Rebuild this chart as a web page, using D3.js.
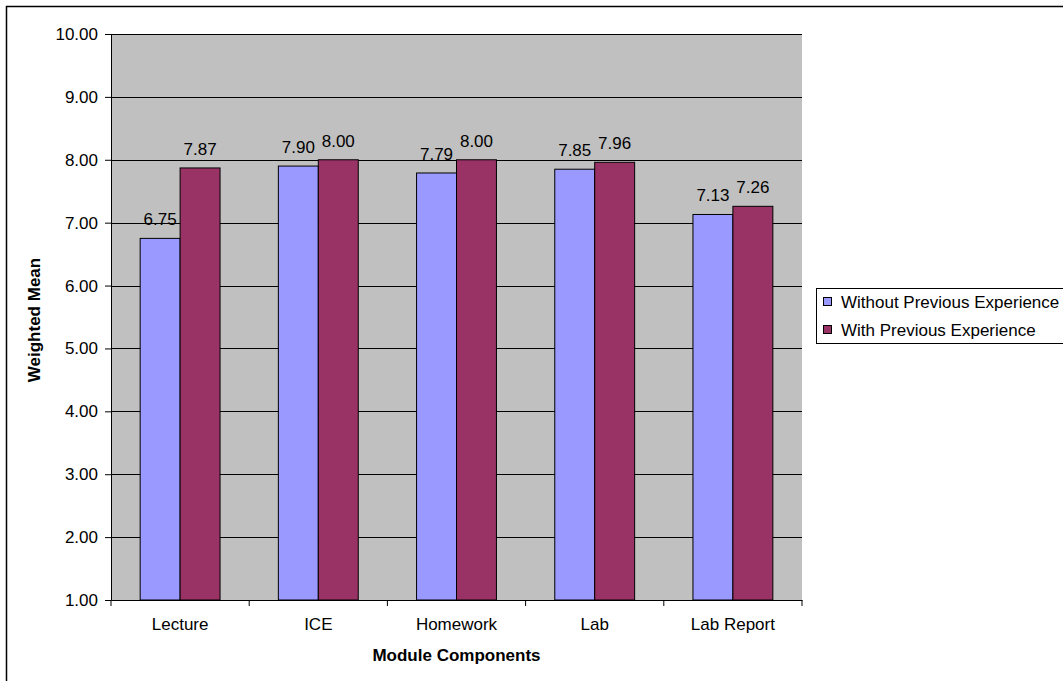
<!DOCTYPE html>
<html><head><meta charset="utf-8">
<script src="https://cdn.jsdelivr.net/npm/d3@7/dist/d3.min.js"></script>
<style>body{margin:0;background:#fff;}svg{display:block;font-family:"Liberation Sans",Arial,sans-serif;}</style>
</head><body>
<svg id="c" width="1063" height="681"></svg>
<script>
const categories = ["Lecture", "ICE", "Homework", "Lab", "Lab Report"];
const seriesNames = ["Without Previous Experience", "With Previous Experience"];
const without = [6.75, 7.90, 7.79, 7.85, 7.13];
const withExp = [7.87, 8.00, 8.00, 7.96, 7.26];
const yTicks = [1, 2, 3, 4, 5, 6, 7, 8, 9, 10];
const colors = ["#9999FF", "#993366"];

const svg = d3.select("#c");
const L = 111, R = 802, T = 34, B = 600;
const FS = 17;

// outer border (left + top)
svg.append("path").attr("d", "M6.5,681 L6.5,6.5 L1063,6.5").attr("fill", "none").attr("stroke", "#000").attr("stroke-width", 1.5);

const x = d3.scaleBand().domain(categories).range([L, R]).paddingInner(0).paddingOuter(0);
const inner = d3.scaleBand().domain([0, 1]).range([0, x.bandwidth()]).paddingInner(0).paddingOuter(0.73);
const y = d3.scaleLinear().domain([1, 10]).range([B, T]);

svg.append("rect").attr("x", L).attr("y", T).attr("width", R - L).attr("height", B - T).attr("fill", "#C0C0C0");

// gridlines
svg.append("g").selectAll("line").data(yTicks.slice(1)).join("line")
  .attr("x1", L).attr("x2", R).attr("y1", d => Math.round(y(d)) + 0.5).attr("y2", d => Math.round(y(d)) + 0.5)
  .attr("stroke", "#000").attr("stroke-width", 1);

// bars
const g = svg.append("g");
categories.forEach((c, i) => {
  [without[i], withExp[i]].forEach((v, s) => {
    const bx = x(c) + inner(s);
    g.append("rect").attr("x", bx).attr("y", y(v)).attr("width", inner.bandwidth()).attr("height", B - y(v))
      .attr("fill", colors[s]).attr("stroke", "#000").attr("stroke-width", 1);
    g.append("text").attr("x", bx + inner.bandwidth() / 2).attr("y", y(v) - 13)
      .attr("text-anchor", "middle").attr("font-size", FS).attr("fill", "#000").text(v.toFixed(2));
  });
});

// y axis
const ya = svg.append("g").attr("transform", `translate(${L},0)`)
  .call(d3.axisLeft(y).tickValues(yTicks).tickFormat(d => d.toFixed(2)).tickSize(6).tickPadding(7));
ya.select(".domain").attr("stroke", "#000");
ya.selectAll("text").attr("font-size", FS).attr("fill", "#000").style("font-family", "Liberation Sans, Arial, sans-serif");

// x axis
const xa = svg.append("g").attr("transform", `translate(0,${B})`)
  .call(d3.axisBottom(x).tickSize(0).tickPadding(18));
xa.select(".domain").attr("stroke", "#000");
xa.selectAll("text").attr("font-size", FS).attr("fill", "#000").style("font-family", "Liberation Sans, Arial, sans-serif");
const bounds = categories.map(c => x(c)).concat([R]);
xa.selectAll(".sep").data(bounds).join("line").attr("class", "sep")
  .attr("x1", d => d).attr("x2", d => d).attr("y1", 0).attr("y2", 6).attr("stroke", "#000");

// titles
svg.append("text").attr("x", (L + R) / 2).attr("y", 661).attr("text-anchor", "middle")
  .attr("font-size", FS).attr("font-weight", "bold").text("Module Components");
svg.append("text").attr("transform", `translate(40,${(T + B) / 2 + 3}) rotate(-90)`).attr("text-anchor", "middle")
  .attr("font-size", FS).attr("font-weight", "bold").text("Weighted Mean");

// legend
const lg = svg.append("g");
lg.append("rect").attr("x", 816.5).attr("y", 288.5).attr("width", 260).attr("height", 55).attr("fill", "#fff").attr("stroke", "#000");
seriesNames.forEach((n, i) => {
  const base = 308 + i * 28;
  lg.append("rect").attr("x", 823.5).attr("y", base - 10.5).attr("width", 8).attr("height", 8).attr("fill", colors[i]).attr("stroke", "#000");
  lg.append("text").attr("x", 841).attr("y", base).attr("font-size", FS).text(n);
});
</script>
</body></html>
